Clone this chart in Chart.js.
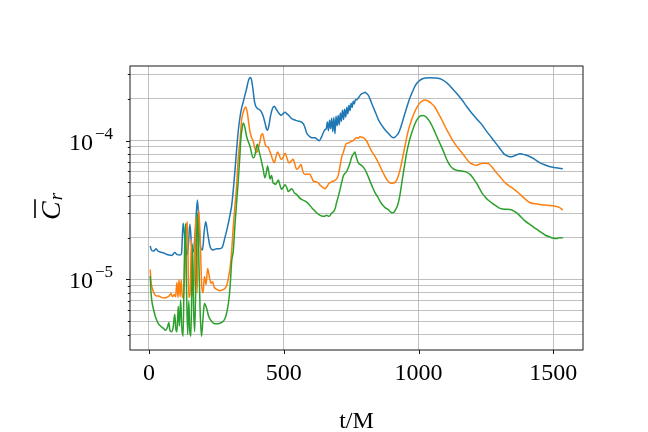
<!DOCTYPE html>
<html>
<head>
<meta charset="utf-8">
<script src="https://cdn.jsdelivr.net/npm/chart.js@4.4.1/dist/chart.umd.min.js"></script>
<style>
  html, body { margin: 0; padding: 0; background: #fff; }
  canvas { display: block; }
</style>
</head>
<body>
<canvas id="chart" width="648" height="432"></canvas>
<script>
// [t/M, C_r] pairs
const blueSeries = [
  [5,1.74e-5],[10,1.62e-5],[18,1.6e-5],[27,1.66e-5],[34,1.6e-5],[45,1.57e-5],[55,1.55e-5],[65,1.52e-5],
  [75,1.5e-5],[85,1.49e-5],[96,1.56e-5],[105,1.51e-5],[115,1.5e-5],[121,1.53e-5],[127,2.54e-5],[133,2.0e-5],
  [140,1.5e-5],[146,1.7e-5],[152,2.5e-5],[159,1.7e-5],[165,1.58e-5],[172,2.2e-5],[180,3.73e-5],[186,2.5e-5],
  [192,1.7e-5],[199,1.63e-5],[205,2.2e-5],[211,2.6e-5],[218,2.15e-5],[226,1.75e-5],[238,1.63e-5],[251,1.66e-5],
  [262,1.66e-5],[272,1.7e-5],[282,2.0e-5],[292,2.4e-5],[300,2.86e-5],[307,3.4e-5],[313,4.4e-5],[319,6.0e-5],
  [325,8.4e-5],[331,1.15e-4],[338,1.48e-4],[344,1.72e-4],[350,1.9e-4],[356,2.12e-4],[362,2.35e-4],[368,2.65e-4],
  [373,2.82e-4],[377,2.85e-4],[381,2.72e-4],[386,2.35e-4],[391,1.95e-4],[396,1.78e-4],[401,1.72e-4],[406,1.69e-4],
  [412,1.66e-4],[418,1.6e-4],[424,1.5e-4],[430,1.36e-4],[436,1.22e-4],[440,1.19e-4],[445,1.28e-4],[451,1.5e-4],
  [458,1.7e-4],[465,1.77e-4],[471,1.7e-4],[477,1.63e-4],[484,1.56e-4],[490,1.52e-4],[497,1.56e-4],[505,1.6e-4],
  [512,1.56e-4],[520,1.51e-4],[528,1.45e-4],[536,1.42e-4],[545,1.4e-4],[554,1.38e-4],[563,1.37e-4],[573,1.32e-4],
  [579,1.24e-4],[585,1.14e-4],[594,1.08e-4],[604,1.05e-4],[616,1.05e-4],[625,1.02e-4],[632,1.0e-4],[640,1.06e-4],
  [647,1.14e-4],[653,1.2e-4],[658,1.22e-4],[662,1.36e-4],[666,1.18e-4],[670,1.4e-4],[674,1.22e-4],[678,1.45e-4],
  [682,1.16e-4],[686,1.47e-4],[690,1.12e-4],[694,1.5e-4],[698,1.28e-4],[702,1.52e-4],[706,1.3e-4],[710,1.58e-4],
  [714,1.38e-4],[718,1.66e-4],[722,1.42e-4],[726,1.68e-4],[730,1.48e-4],[734,1.74e-4],[738,1.56e-4],[742,1.8e-4],
  [746,1.64e-4],[750,1.86e-4],[754,1.74e-4],[758,1.92e-4],[762,1.84e-4],[766,1.98e-4],[770,1.97e-4],[777,2.03e-4],
  [786,2.15e-4],[795,2.2e-4],[802,2.23e-4],[808,2.18e-4],[814,2.12e-4],[820,2.0e-4],[828,1.82e-4],[836,1.67e-4],
  [843,1.55e-4],[851,1.42e-4],[860,1.32e-4],[870,1.24e-4],[879,1.18e-4],[888,1.13e-4],[897,1.08e-4],[906,1.05e-4],
  [913,1.06e-4],[919,1.09e-4],[925,1.13e-4],[931,1.2e-4],[940,1.36e-4],[950,1.58e-4],[959,1.8e-4],[968,2.03e-4],
  [978,2.26e-4],[987,2.47e-4],[996,2.62e-4],[1005,2.72e-4],[1015,2.79e-4],[1024,2.83e-4],[1043,2.84e-4],[1061,2.83e-4],
  [1080,2.79e-4],[1092,2.72e-4],[1105,2.61e-4],[1117,2.48e-4],[1129,2.33e-4],[1145,2.15e-4],[1160,1.98e-4],[1178,1.77e-4],
  [1197,1.58e-4],[1215,1.44e-4],[1234,1.31e-4],[1252,1.17e-4],[1271,1.05e-4],[1290,9.4e-5],[1309,8.4e-5],[1318,8.0e-5],
  [1327,7.8e-5],[1338,7.66e-5],[1346,7.66e-5],[1360,7.85e-5],[1377,8.04e-5],[1395,7.9e-5],[1414,7.66e-5],[1432,7.3e-5],
  [1451,6.92e-5],[1470,6.68e-5],[1488,6.48e-5],[1510,6.38e-5],[1535,6.27e-5]
];

const orangeSeries = [
  [5,1.18e-5],[8,9.6e-6],[13,8.6e-6],[20,7.9e-6],[28,7.6e-6],[36,7.6e-6],[45,7.45e-6],[55,7.35e-6],
  [65,7.4e-6],[75,7.6e-6],[82,7.9e-6],[88,7.5e-6],[94,7.8e-6],[99,7.5e-6],[104,9.5e-6],[108,7.4e-6],
  [112,1.0e-5],[116,7.5e-6],[120,9.9e-6],[124,7.4e-6],[128,7.6e-6],[133,1.1e-5],[138,2.2e-5],[143,2.6e-5],
  [148,7.4e-6],[153,8e-6],[158,1.95e-5],[163,7.6e-6],[168,1.0e-5],[174,2.8e-5],[179,8e-6],[185,3.16e-5],
  [190,2.0e-5],[196,9.0e-6],[201,8.0e-6],[206,1.05e-5],[212,9.2e-6],[218,1.2e-5],[224,1.05e-5],[230,9.4e-6],
  [236,9.6e-6],[242,8.8e-6],[251,8.5e-6],[262,8.3e-6],[272,8.4e-6],[282,8.6e-6],[290,9.2e-6],[296,1.05e-5],
  [302,1.25e-5],[307,1.6e-5],[313,2.4e-5],[319,3.37e-5],[325,4.6e-5],[331,7.3e-5],[338,1.0e-4],[344,1.42e-4],
  [350,1.6e-4],[356,1.72e-4],[359,1.75e-4],[365,1.6e-4],[370,1.35e-4],[375,1.16e-4],[381,1.05e-4],[387,9.9e-5],
  [393,8.8e-5],[400,8.2e-5],[406,8.8e-5],[412,9.8e-5],[417,1.1e-4],[422,1.12e-4],[427,1.02e-4],[433,9.2e-5],
  [443,8.9e-5],[448,8.4e-5],[453,7.96e-5],[459,7.3e-5],[465,6.92e-5],[471,7.6e-5],[477,8.27e-5],[483,7.9e-5],
  [490,7.33e-5],[497,7.5e-5],[505,8.1e-5],[512,7.5e-5],[519,6.92e-5],[527,7.1e-5],[535,7.33e-5],[541,6.8e-5],
  [548,6.21e-5],[556,6.4e-5],[564,6.74e-5],[571,6.0e-5],[579,5.71e-5],[588,5.75e-5],[597,5.71e-5],[604,5.4e-5],
  [610,5.11e-5],[619,5.05e-5],[628,4.97e-5],[636,4.75e-5],[645,4.6e-5],[653,4.5e-5],[660,4.65e-5],[667,4.9e-5],
  [674,5.0e-5],[681,5.1e-5],[689,5.15e-5],[696,5.3e-5],[702,5.6e-5],[709,6.56e-5],[715,7.6e-5],[721,8.2e-5],
  [727,9.0e-5],[733,9.55e-5],[740,9.6e-5],[746,9.8e-5],[752,9.9e-5],[758,1.0e-4],[764,1.03e-4],[770,1.05e-4],
  [777,1.04e-4],[783,1.07e-4],[789,1.06e-4],[795,1.05e-4],[808,9.9e-5],[817,9.1e-5],[826,8.4e-5],[835,7.9e-5],
  [845,7.33e-5],[854,6.75e-5],[863,6.2e-5],[872,5.7e-5],[882,5.26e-5],[894,4.97e-5],[903,4.93e-5],[913,5.0e-5],
  [919,5.2e-5],[925,5.56e-5],[931,6.1e-5],[937,6.9e-5],[946,8.4e-5],[956,1.05e-4],[965,1.24e-4],[975,1.42e-4],
  [984,1.58e-4],[993,1.72e-4],[1002,1.84e-4],[1012,1.92e-4],[1024,1.96e-4],[1035,1.93e-4],[1048,1.85e-4],[1061,1.74e-4],
  [1073,1.58e-4],[1086,1.42e-4],[1098,1.27e-4],[1111,1.14e-4],[1126,1.01e-4],[1142,9.1e-5],[1154,8.5e-5],[1166,7.95e-5],
  [1178,7.4e-5],[1191,6.92e-5],[1204,6.72e-5],[1216,6.66e-5],[1228,6.8e-5],[1240,6.86e-5],[1259,6.84e-5],[1271,6.5e-5],
  [1284,6.04e-5],[1302,5.5e-5],[1321,4.97e-5],[1345,4.6e-5],[1370,4.21e-5],[1392,3.85e-5],[1414,3.57e-5],[1439,3.5e-5],
  [1476,3.42e-5],[1506,3.37e-5],[1522,3.3e-5],[1535,3.16e-5]
];

const greenSeries = [
  [5,1.06e-5],[8,8.0e-6],[12,6.8e-6],[18,6.0e-6],[24,5.4e-6],[34,4.84e-6],[44,4.6e-6],[53,4.46e-6],
  [62,4.3e-6],[70,4.6e-6],[74,4.9e-6],[78,4.3e-6],[84,4.2e-6],[90,4.5e-6],[96,5.6e-6],[100,4.4e-6],
  [104,4.2e-6],[109,6.4e-6],[113,4.6e-6],[118,7.1e-6],[122,4.5e-6],[127,3.9e-6],[131,1.2e-5],[136,2.54e-5],
  [140,8e-6],[144,4.0e-6],[148,7e-6],[152,4.2e-6],[156,3.9e-6],[162,1.8e-5],[166,6e-6],[170,4.2e-6],
  [175,1.2e-5],[180,3.0e-5],[185,1.5e-5],[190,6e-6],[195,3.9e-6],[200,5.0e-6],[206,6.7e-6],[214,6.2e-6],
  [222,5.4e-6],[232,5.0e-6],[245,4.8e-6],[257,4.8e-6],[270,4.9e-6],[282,5.2e-6],[290,5.9e-6],[298,7.5e-6],
  [303,1.0e-5],[307,1.35e-5],[313,1.6e-5],[319,2.43e-5],[325,3.5e-5],[331,4.97e-5],[337,7.5e-5],[341,1.02e-4],
  [345,1.2e-4],[350,1.34e-4],[356,1.25e-4],[362,1.08e-4],[375,9.1e-5],[387,7.5e-5],[393,7.8e-5],[402,9.4e-5],
  [408,8.5e-5],[416,7.33e-5],[424,6.2e-5],[430,5.4e-5],[435,5.8e-5],[440,6.56e-5],[445,5.9e-5],[449,5.3e-5],
  [455,5.6e-5],[460,5.0e-5],[465,4.9e-5],[470,4.84e-5],[475,5.0e-5],[480,5.2e-5],[486,4.8e-5],[492,4.45e-5],
  [498,4.6e-5],[505,4.8e-5],[511,4.6e-5],[517,4.3e-5],[523,4.4e-5],[530,4.5e-5],[540,4.2e-5],[548,4.1e-5],
  [557,3.9e-5],[566,3.77e-5],[575,3.7e-5],[585,3.6e-5],[595,3.45e-5],[604,3.29e-5],[613,3.15e-5],[622,3.02e-5],
  [632,2.92e-5],[641,2.86e-5],[650,2.85e-5],[659,2.9e-5],[668,2.85e-5],[678,3.0e-5],[690,3.2e-5],[696,3.57e-5],
  [703,4.0e-5],[709,4.45e-5],[715,5.0e-5],[721,5.56e-5],[727,5.8e-5],[733,5.98e-5],[740,6.4e-5],[746,6.92e-5],
  [752,7.6e-5],[758,7.96e-5],[764,8.27e-5],[770,7.5e-5],[777,6.92e-5],[790,6.6e-5],[801,6.21e-5],[810,5.7e-5],
  [820,5.11e-5],[830,4.6e-5],[839,4.21e-5],[848,3.95e-5],[857,3.67e-5],[866,3.45e-5],[876,3.29e-5],[888,3.18e-5],
  [897,3.05e-5],[903,3.02e-5],[909,3.05e-5],[915,3.19e-5],[922,3.4e-5],[928,3.77e-5],[934,4.4e-5],[940,5.26e-5],
  [948,6.6e-5],[956,8.17e-5],[965,9.8e-5],[975,1.14e-4],[984,1.28e-4],[993,1.4e-4],[1005,1.5e-4],[1018,1.52e-4],
  [1028,1.48e-4],[1036,1.42e-4],[1043,1.36e-4],[1055,1.22e-4],[1067,1.08e-4],[1080,9.5e-5],[1092,8.4e-5],[1101,7.6e-5],
  [1111,6.92e-5],[1120,6.5e-5],[1129,6.27e-5],[1145,6.1e-5],[1160,6.04e-5],[1175,5.95e-5],[1191,5.71e-5],[1200,5.45e-5],
  [1210,5.11e-5],[1219,4.8e-5],[1228,4.45e-5],[1237,4.15e-5],[1247,3.93e-5],[1259,3.72e-5],[1271,3.57e-5],[1286,3.4e-5],
  [1302,3.25e-5],[1320,3.2e-5],[1340,3.19e-5],[1352,3.12e-5],[1364,3.02e-5],[1380,2.82e-5],[1395,2.64e-5],[1415,2.47e-5],
  [1438,2.3e-5],[1455,2.18e-5],[1469,2.09e-5],[1485,2.03e-5],[1500,1.98e-5],[1512,1.97e-5],[1522,2.0e-5],[1535,1.99e-5]
];

const xTicks = [0, 500, 1000, 1500];
const yDecades = [1e-6, 1e-5, 1e-4];
const yMantissas = [1, 2, 3, 4, 5, 6, 7, 8, 9];
const yLabelExps = [-5, -4];

const xMin = -70, xMax = 1610;
const yMin = 3.1e-6, yMax = 3.45e-4;

const serif = "'Liberation Serif', 'DejaVu Serif', serif";
const gridColor = '#b0b0b0';

const yGrid = [];
yDecades.forEach(d => yMantissas.forEach(m => {
  const v = m * d;
  if (v > yMin && v < yMax) yGrid.push({ value: v, major: m === 1 });
}));

const toPoints = series => series.map(([t, c]) => ({ x: t, y: c }));

// ticks, box, y tick labels and axis titles drawn by hand
const axesDecor = {
  id: 'axesDecor',
  afterDraw(chart) {
    const { ctx, chartArea: a, scales } = chart;
    ctx.save();
    ctx.strokeStyle = '#000';
    ctx.lineWidth = 0.9;
    ctx.beginPath();
    xTicks.forEach(v => {
      const px = Math.round(scales.x.getPixelForValue(v)) + 0.5;
      ctx.moveTo(px, a.bottom);
      ctx.lineTo(px, a.bottom + 4);
    });
    yGrid.forEach(t => {
      const py = Math.round(scales.y.getPixelForValue(t.value)) + 0.5;
      ctx.moveTo(a.left, py);
      ctx.lineTo(a.left - (t.major ? 4 : 2.2), py);
    });
    ctx.stroke();
    ctx.strokeRect(a.left, a.top, a.right - a.left, a.bottom - a.top);

    ctx.fillStyle = '#000';
    yLabelExps.forEach(e => {
      const py = scales.y.getPixelForValue(Math.pow(10, e));
      ctx.font = '24px ' + serif;
      ctx.textAlign = 'right';
      ctx.textBaseline = 'alphabetic';
      ctx.fillText('10', 93, py + 9);
      ctx.font = '17px ' + serif;
      ctx.textAlign = 'left';
      ctx.fillText('\u2212' + Math.abs(e), 95, py - 2);
    });

    ctx.font = '24px ' + serif;
    ctx.textAlign = 'center';
    ctx.fillText('t/M', (a.left + a.right) / 2, 428);

    // y title: bar over calligraphic-ish C with subscript r, rotated
    ctx.translate(60, 220);
    ctx.rotate(-Math.PI / 2);
    ctx.textAlign = 'left';
    ctx.font = 'italic 28px ' + serif;
    const w = ctx.measureText('C').width;
    ctx.fillText('C', 0, 0);
    ctx.lineWidth = 1.6;
    ctx.beginPath();
    ctx.moveTo(2, -25);
    ctx.lineTo(w + 2, -25);
    ctx.stroke();
    ctx.font = 'italic 19px ' + serif;
    ctx.fillText('r', w + 1, 2);
    ctx.restore();
  }
};

const lineSet = (series, color, order) => ({
  data: toPoints(series),
  borderColor: color,
  backgroundColor: color,
  borderWidth: 1.5,
  pointRadius: 0,
  cubicInterpolationMode: 'monotone',
  fill: false,
  order: order
});

new Chart(document.getElementById('chart'), {
  type: 'line',
  data: {
    datasets: [
      lineSet(blueSeries, '#1f77b4', 2),
      lineSet(orangeSeries, '#ff7f0e', 1),
      lineSet(greenSeries, '#2ca02c', 0)
    ]
  },
  options: {
    responsive: false,
    animation: false,
    devicePixelRatio: 1,
    events: [],
    layout: { padding: { top: 66, right: 65, left: 0, bottom: 0 } },
    plugins: { legend: { display: false }, tooltip: { enabled: false } },
    scales: {
      x: {
        type: 'linear',
        min: xMin,
        max: xMax,
        afterBuildTicks: scale => { scale.ticks = xTicks.map(v => ({ value: v })); },
        afterFit: scale => { scale.height = 82; },
        border: { display: false },
        grid: { color: gridColor, lineWidth: 0.8, drawTicks: false },
        ticks: {
          padding: 9,
          color: '#000',
          font: { family: serif, size: 24 },
          callback: v => String(v)
        }
      },
      y: {
        type: 'logarithmic',
        min: yMin,
        max: yMax,
        afterBuildTicks: scale => { scale.ticks = yGrid.map(t => ({ value: t.value })); },
        afterFit: scale => { scale.width = 130; },
        border: { display: false },
        grid: { color: gridColor, lineWidth: 0.8, drawTicks: false },
        ticks: { display: false }
      }
    }
  },
  plugins: [axesDecor]
});
</script>
</body>
</html>
